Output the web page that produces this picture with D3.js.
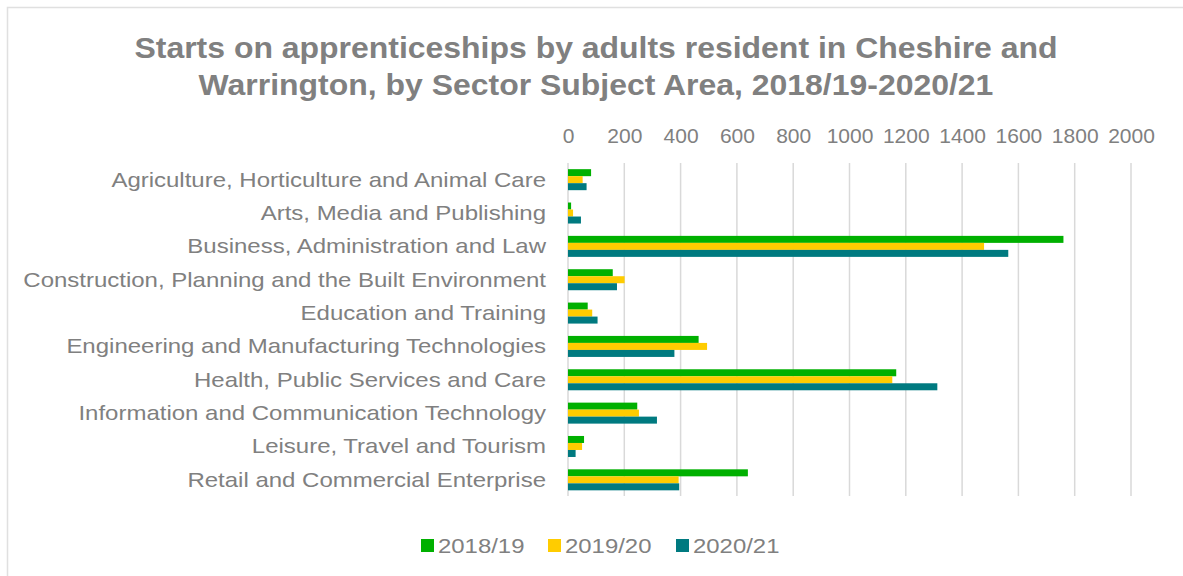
<!DOCTYPE html>
<html>
<head>
<meta charset="utf-8">
<script src="https://cdn.jsdelivr.net/npm/d3@7"></script>
<style>
  body { margin: 0; background: #fff; }
  svg { display: block; font-family: "Liberation Sans", Arial, sans-serif; }
</style>
</head>
<body>
<svg id="canvas" width="1183" height="576"></svg>
<script>
const categories = [
  "Agriculture, Horticulture and Animal Care",
  "Arts, Media and Publishing",
  "Business, Administration and Law",
  "Construction, Planning and the Built Environment",
  "Education and Training",
  "Engineering and Manufacturing Technologies",
  "Health, Public Services and Care",
  "Information and Communication Technology",
  "Leisure, Travel and Tourism",
  "Retail and Commercial Enterprise"
]
const seriesNames = ["2018/19", "2019/20", "2020/21"]
const values1819 = [82, 11, 1760, 159, 70, 464, 1166, 246, 57, 639]
const values1920 = [52, 18, 1478, 201, 86, 494, 1152, 252, 50, 393]
const values2021 = [66, 46, 1564, 174, 105, 378, 1312, 316, 27, 395]
const tickValues = [0, 200, 400, 600, 800, 1000, 1200, 1400, 1600, 1800, 2000]
const colors = ["#00b000", "#ffcc00", "#007a80"]

const seriesValues = [values1819, values1920, values2021]
const textColor = "#808080"

const svg = d3.select("#canvas")

// outer chart border
svg.append("rect")
  .attr("x", 7.5).attr("y", 7.5)
  .attr("width", 1200).attr("height", 600)
  .attr("fill", "none")
  .attr("stroke", "#e0e0e0")
  .attr("stroke-width", 1.5)

// title (the source font is a bit wider than Liberation, so stretch horizontally)
const titleLines = ["Starts on apprenticeships by adults resident in Cheshire and",
                    "Warrington, by Sector Subject Area, 2018/19-2020/21"]
svg.append("g")
  .selectAll("text")
  .data(titleLines)
  .join("text")
  .attr("transform", (d, i) => `translate(596,${58 + i * 37}) scale(1.065,1)`)
  .attr("text-anchor", "middle")
  .attr("fill", textColor)
  .style("font-size", "30px")
  .style("font-weight", "bold")
  .text(d => d)

const x = d3.scaleLinear().domain([0, 2000]).range([568, 1131])
const y = d3.scaleBand().domain(categories).range([163, 496.5])
  .paddingInner(0.37).paddingOuter(0.185)
const ySub = d3.scaleBand().domain(seriesNames).range([0, y.bandwidth()])

// gridlines
svg.append("g")
  .selectAll("line")
  .data(tickValues)
  .join("line")
  .attr("x1", d => x(d)).attr("x2", d => x(d))
  .attr("y1", 163).attr("y2", 496)
  .attr("stroke", "#d9d9d9")
  .attr("stroke-width", 1.5)

// top axis
const xAxis = svg.append("g")
  .attr("transform", "translate(0,143)")
  .call(d3.axisTop(x).tickValues(tickValues).tickSize(0).tickPadding(0).tickFormat(d3.format("d")))
xAxis.select(".domain").remove()
xAxis.selectAll("text")
  .attr("fill", textColor)
  .style("font-size", "21px")

// category labels
svg.append("g")
  .selectAll("text")
  .data(categories)
  .join("text")
  .attr("transform", d => `translate(546,${y(d) + y.bandwidth() / 2 + 7}) scale(1.2,1)`)
  .attr("text-anchor", "end")
  .attr("fill", textColor)
  .style("font-size", "20px")
  .text(d => d)

// bars
seriesNames.forEach((s, i) => {
  svg.append("g")
    .attr("fill", colors[i])
    .selectAll("rect")
    .data(categories)
    .join("rect")
    .attr("x", x(0))
    .attr("y", d => y(d) + ySub(s))
    .attr("width", (d, j) => x(seriesValues[i][j]) - x(0))
    .attr("height", ySub.bandwidth())
})

// legend
const legendX = [421, 548, 676]
const legend = svg.append("g")
  .selectAll("g")
  .data(seriesNames)
  .join("g")
  .attr("transform", (d, i) => `translate(${legendX[i]},553)`)
legend.append("rect")
  .attr("x", 0).attr("y", -14)
  .attr("width", 13).attr("height", 13)
  .attr("fill", (d, i) => colors[i])
legend.append("text")
  .attr("transform", "translate(17,0) scale(1.14,1)")
  .attr("fill", textColor)
  .style("font-size", "21px")
  .text(d => d)
</script>
</body>
</html>
